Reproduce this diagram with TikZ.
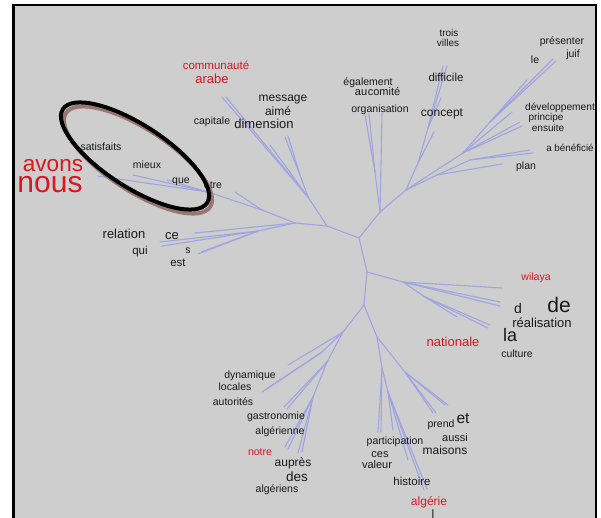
\documentclass[tikz,border=0pt]{standalone}
\usepackage{fontspec}
\setmainfont{Liberation Sans}
\definecolor{bg}{RGB}{206,206,206}
\definecolor{edgec}{RGB}{160,165,225}
\definecolor{wred}{RGB}{218,22,32}
\definecolor{wtxt}{RGB}{25,25,25}
\definecolor{shad}{RGB}{152,118,115}
\begin{document}
\begin{tikzpicture}[x=1pt,y=-1pt,
  wrd/.style={inner sep=0pt, text=wtxt, anchor=base, yshift={-0.26pt*#1}, font=\fontsize{#1}{#1}\selectfont},
  rwd/.style={wrd=#1, text=wred},
  br/.style={draw=edgec, line width=1.1pt, line cap=round},
  ring/.style={line width=4pt, draw=black}]
\useasboundingbox (0,0) rectangle (601,518);
\fill[white] (0,0) rectangle (601,518);
\draw[line width=2.5pt, fill=bg] (13.5,5) rectangle (596,530);

% ---- tree coordinates
\coordinate (A) at (359,238);
\coordinate (B) at (367,272);
\coordinate (C) at (364,305);
\coordinate (U1) at (380,212);
\coordinate (O1) at (375,172);
\coordinate (o1) at (365,115);
\coordinate (o2) at (369,114);
\coordinate (o3) at (382,113);
\coordinate (U2) at (406,190);
\coordinate (D1) at (418,163);
\coordinate (d1) at (434,132);
\coordinate (D2) at (428,128);
\coordinate (d2) at (441,98);
\coordinate (d3) at (443,66);
\coordinate (d4) at (447,66);
\coordinate (R1) at (463,153);
\coordinate (R2) at (490,122);
\coordinate (r1) at (527,80);
\coordinate (r2) at (553,59);
\coordinate (r3) at (556,61);
\coordinate (r4) at (512,112);
\coordinate (r5) at (520,122);
\coordinate (r6) at (522,126);
\coordinate (P1) at (437,175);
\coordinate (p1) at (502,164);
\coordinate (P2) at (470,160);
\coordinate (p2) at (530,150);
\coordinate (p3) at (533,153);
\coordinate (L1) at (327,226);
\coordinate (L2) at (308,197);
\coordinate (l1) at (222,97);
\coordinate (l2) at (226,97);
\coordinate (L3) at (300,175);
\coordinate (l3) at (285,137);
\coordinate (l4) at (288,136);
\coordinate (l5) at (270,145);
\coordinate (M1) at (295,223);
\coordinate (S1) at (262,210);
\coordinate (s0) at (235,192);
\coordinate (S2) at (208,192);
\coordinate (s1) at (98,176);
\coordinate (s2) at (133,175);
\coordinate (s3) at (167,180);
\coordinate (M2) at (258,231);
\coordinate (m1) at (160,242);
\coordinate (m2) at (162,246);
\coordinate (m3) at (195,233);
\coordinate (m4) at (198,254);
\coordinate (m5) at (201,252);
\coordinate (BL1) at (343,332);
\coordinate (BL2) at (322,352);
\coordinate (b1) at (288,365);
\coordinate (b2) at (265,390);
\coordinate (b3) at (262,392);
\coordinate (BL3) at (327,362);
\coordinate (b4) at (287,409);
\coordinate (b5) at (284,407);
\coordinate (BL4) at (313,397);
\coordinate (b6) at (285,447);
\coordinate (b7) at (288,449);
\coordinate (b8) at (298,453);
\coordinate (b9) at (302,452);
\coordinate (BR1) at (377,337);
\coordinate (BR2) at (382,368);
\coordinate (c1) at (378,432);
\coordinate (c2) at (381,432);
\coordinate (BR3) at (388,392);
\coordinate (c3) at (393,430);
\coordinate (c4) at (408,460);
\coordinate (c5) at (424,490);
\coordinate (c6) at (427,489);
\coordinate (BR4) at (405,372);
\coordinate (c7) at (433,413);
\coordinate (c8) at (436,413);
\coordinate (c9) at (445,405);
\coordinate (c10) at (448,405);
\coordinate (RR1) at (403,282);
\coordinate (e1) at (502,288);
\coordinate (e2) at (500,302);
\coordinate (e3) at (500,306);
\coordinate (RR3) at (425,297);
\coordinate (e4) at (457,317);
\coordinate (e5) at (490,325);
\coordinate (e6) at (488,328);

% ---- tree edges
\draw[br] (A) -- (B) -- (C);
\draw[br] (A) -- (U1) -- (O1) -- (o1);
\draw[br] (O1) -- (o2);
\draw[br] (U1) -- (o3);
\draw[br] (U1) -- (U2) -- (D1) -- (d1);
\draw[br] (D1) -- (D2) -- (d2);
\draw[br] (D2) -- (d3);
\draw[br] (D2) -- (d4);
\draw[br] (U2) -- (R1) -- (R2) -- (r1);
\draw[br] (R2) -- (r2);
\draw[br] (R2) -- (r3);
\draw[br] (R1) -- (r4);
\draw[br] (R1) -- (r5);
\draw[br] (R1) -- (r6);
\draw[br] (U2) -- (P1) -- (p1);
\draw[br] (P1) -- (P2) -- (p2);
\draw[br] (P2) -- (p3);
\draw[br] (A) -- (L1) -- (L2) -- (l1);
\draw[br] (L2) -- (l2);
\draw[br] (L2) -- (L3) -- (l3);
\draw[br] (L3) -- (l4);
\draw[br] (L2) -- (l5);
\draw[br] (L1) -- (M1) -- (S1) -- (s0);
\draw[br] (S1) -- (S2) -- (s1);
\draw[br] (S2) -- (s2);
\draw[br] (S2) -- (s3);
\draw[br] (M1) -- (m3);
\draw[br] (M1) -- (M2) -- (m1);
\draw[br] (M2) -- (m2);
\draw[br] (M2) -- (m4);
\draw[br] (M2) -- (m5);
\draw[br] (C) -- (BL1) -- (b1);
\draw[br] (BL1) -- (BL2) -- (b2);
\draw[br] (BL2) -- (b3);
\draw[br] (BL1) -- (BL3) -- (b4);
\draw[br] (BL3) -- (b5);
\draw[br] (BL3) -- (BL4) -- (b6);
\draw[br] (BL4) -- (b7);
\draw[br] (BL4) -- (b8);
\draw[br] (BL4) -- (b9);
\draw[br] (C) -- (BR1) -- (BR2) -- (c1);
\draw[br] (BR2) -- (c2);
\draw[br] (BR2) -- (BR3) -- (c3);
\draw[br] (BR3) -- (c4);
\draw[br] (BR3) -- (c5);
\draw[br] (BR3) -- (c6);
\draw[br] (BR1) -- (BR4) -- (c7);
\draw[br] (BR4) -- (c8);
\draw[br] (BR4) -- (c9);
\draw[br] (BR4) -- (c10);
\draw[br] (B) -- (RR1) -- (e1);
\draw[br] (RR1) -- (e2);
\draw[br] (RR1) -- (e3);
\draw[br] (RR1) -- (RR3) -- (e4);
\draw[br] (RR3) -- (e5);
\draw[br] (RR3) -- (e6);

% ---- words
\node[rwd=11.5] (communaute) at (216,67) {communauté};
\node[rwd=13] (arabe) at (212,80.6) {arabe};
\node[wrd=12] (message) at (283,98) {message};
\node[wrd=12] (aime) at (278,112) {aimé};
\node[wrd=13] (dimension) at (264,125) {dimension};
\node[wrd=10.5] (capitale) at (212,122) {capitale};
\node[wrd=10.5] (satisfaits) at (101,148) {satisfaits};
\node[wrd=10.5] (mieux) at (147,166) {mieux};
\node[wrd=10.5] (que) at (181,181) {que};
\node[wrd=10.5] (etre) at (213,186) {être};
\node[rwd=22.5] (avons) at (53,165.5) {avons};
\node[rwd=30] (nous) at (50,185) {nous};
\node[wrd=13] (relation) at (124,235) {relation};
\node[wrd=13] (ce) at (172,236) {ce};
\node[wrd=11.5] (qui) at (140,252) {qui};
\node[wrd=10.5] (s) at (188,251) {s};
\node[wrd=11.5] (est) at (178,264) {est};
\node[wrd=10] (trois) at (449,34) {trois};
\node[wrd=10] (villes) at (448,44) {villes};
\node[wrd=10.5] (presenter) at (562,42) {présenter};
\node[wrd=10.5] (juif) at (573,55) {juif};
\node[wrd=10.5] (le) at (535,61) {le};
\node[wrd=10.5] (egalement) at (368,83) {également};
\node[wrd=11] (au) at (361,93) {au};
\node[wrd=11] (comite) at (384,93) {comité};
\node[wrd=11.5] (difficile) at (446,79) {difficile};
\node[wrd=10.5] (organisation) at (380,110) {organisation};
\node[wrd=12] (concept) at (442,113) {concept};
\node[wrd=10.2] (developpement) at (560,108) {développement};
\node[wrd=10] (principe) at (546,118) {principe};
\node[wrd=10] (ensuite) at (548,129) {ensuite};
\node[wrd=9.8] (abeneficie) at (570,149) {a bénéficié};
\node[wrd=10.5] (plan) at (526,167) {plan};
\node[rwd=10.5] (wilaya) at (536,278) {wilaya};
\node[wrd=14] (d) at (518,309.4) {d};
\node[wrd=21] (de) at (559,307.5) {de};
\node[wrd=13] (realisation) at (542,324) {réalisation};
\node[wrd=18] (la) at (510,337.3) {la};
\node[rwd=13] (nationale) at (453,343) {nationale};
\node[wrd=10.5] (culture) at (517,355) {culture};
\node[wrd=10.5] (dynamique) at (250,376) {dynamique};
\node[wrd=10.5] (locales) at (235,388) {locales};
\node[wrd=10.5] (autorites) at (233,403) {autorités};
\node[wrd=10.5] (gastronomie) at (276,417) {gastronomie};
\node[wrd=10.5] (algerienne) at (280,432) {algérienne};
\node[rwd=10.5] (notre) at (260,453) {notre};
\node[wrd=12] (aupres) at (293,463) {auprès};
\node[wrd=13.5] (des) at (297,477.5) {des};
\node[wrd=10.5] (algeriens) at (277,490) {algériens};
\node[wrd=10.5] (prend) at (441,425) {prend};
\node[wrd=15.5] (et) at (463,419) {et};
\node[wrd=11] (aussi) at (455,439) {aussi};
\node[wrd=12] (maisons) at (445,451) {maisons};
\node[wrd=10.5] (participation) at (395,442) {participation};
\node[wrd=11] (ces) at (380,455) {ces};
\node[wrd=11] (valeur) at (377,466) {valeur};
\node[wrd=11.5] (histoire) at (412,483) {histoire};
\node[rwd=12] (algerie) at (429,502) {algérie};
\node[wrd=12] (lword) at (433,515) {l};

% ---- highlight ring
\draw[ring, draw=shad, rotate around={-33:(138,160)}] (138,160) ellipse [x radius=86pt, y radius=31pt];
\draw[ring, rotate around={-33:(135,156)}] (135,156) ellipse [x radius=86pt, y radius=31pt];
\end{tikzpicture}
\end{document}
